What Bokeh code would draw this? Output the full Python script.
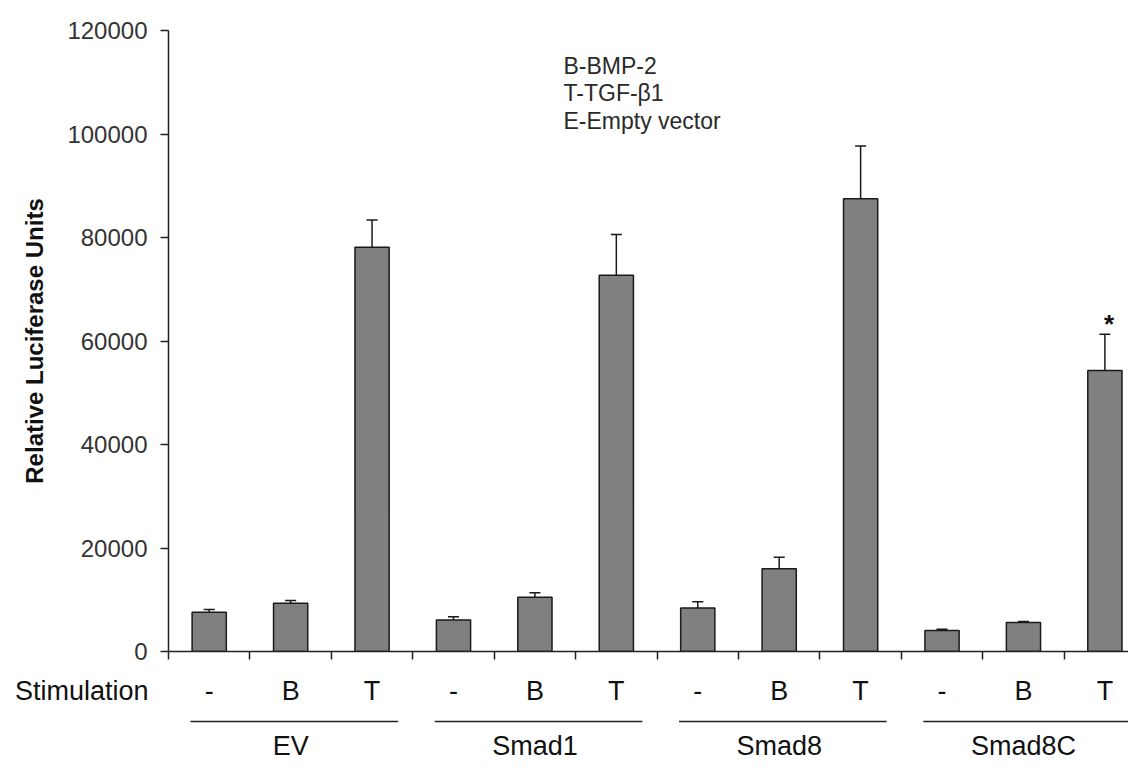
import numpy as np
from bokeh.plotting import figure
from bokeh.models import Range1d, FixedTicker, Label, ColumnDataSource, NumeralTickFormatter, LinearAxis
from bokeh.layouts import column
from bokeh.embed import file_html
from bokeh.resources import INLINE
from bokeh.core.properties import value

# ---------------- data ----------------
groups = ["EV", "Smad1", "Smad8", "Smad8C"]
stimulations = ["-", "B", "T"]
means = [7600, 9300, 78100, 6100, 10500, 72700, 8400, 16000, 87500, 4050, 5600, 54300]
errors = [500, 550, 5300, 600, 850, 7900, 1200, 2200, 10200, 250, 200, 7000]
significant = [False, False, False, False, False, False, False, False, False, False, False, True]
y_ticks = [0, 20000, 40000, 60000, 80000, 100000, 120000]
legend_lines = ["B-BMP-2", "T-TGF-\u03b21", "E-Empty vector"]
y_label = "Relative Luciferase Units"
row_label = "Stimulation"

# ---------------- layout ----------------
FONT = "Liberation Sans"
W = 1128
LEFT = 168
FRAME_W = W - LEFT
X_END = 11.79
TOP = 30
FRAME_H = 621
BOTTOM1 = 20
H1 = TOP + FRAME_H + BOTTOM1     # 671
H2 = 38                          # stimulation row
H3 = 760 - H1 - H2               # group row

n = len(groups) * len(stimulations)
xc = np.arange(n) + 0.5
tops = [m + e for m, e in zip(means, errors)]

src = ColumnDataSource(dict(x=xc, m=means, t=tops))
xr = Range1d(0, X_END)

p = figure(width=W, height=H1, x_range=xr, y_range=Range1d(0, y_ticks[-1]),
           output_backend="svg", toolbar_location=None,
           min_border_left=LEFT, min_border_right=0, min_border_top=TOP, min_border_bottom=BOTTOM1)
p.outline_line_color = None
p.grid.visible = False

p.vbar(x="x", top="m", width=0.42, source=src, fill_color="#808080",
       line_color="#1a1a1a", line_width=1.5)
p.segment(x0="x", y0="m", x1="x", y1="t", source=src, line_color="#1a1a1a", line_width=1.5)
cap = 0.068
p.segment(x0=xc - cap, y0=tops, x1=xc + cap, y1=tops, line_color="#1a1a1a", line_width=1.5)

# significance star
sx = [x + 0.05 for x, s in zip(xc, significant) if s]
sy = [t + 2000 for t, s in zip(tops, significant) if s]
p.text(x=sx, y=sy, text=["*"] * len(sx), text_font=value(FONT), text_font_style="bold",
       text_font_size="26px", text_align="center", text_baseline="alphabetic", text_color="#111111")

# y axis
ya = p.yaxis[0]
ya.ticker = FixedTicker(ticks=y_ticks)
ya.formatter = NumeralTickFormatter(format="0")
ya.major_tick_out = 8
ya.major_tick_in = 0
ya.minor_tick_out = 0
ya.minor_tick_in = 0
ya.axis_line_width = 1.5
ya.axis_line_color = "#222222"
ya.major_tick_line_width = 1.5
ya.major_tick_line_color = "#222222"
ya.major_label_text_font = FONT
ya.major_label_text_font_size = "24px"
ya.major_label_text_color = "#333333"
ya.major_label_standoff = 13
ya.axis_label = y_label
ya.axis_label_text_font = FONT
ya.axis_label_text_font_size = "24px"
ya.axis_label_text_font_style = "bold"
ya.axis_label_text_color = "#111111"
ya.axis_label_standoff = 16

# x axis (boundary ticks only)
xa = p.xaxis[0]
xa.ticker = FixedTicker(ticks=list(range(n + 1)))
xa.major_tick_out = 8
xa.major_tick_in = 0
xa.minor_tick_out = 0
xa.minor_tick_in = 0
xa.axis_line_width = 1.5
xa.axis_line_color = "#222222"
xa.major_tick_line_width = 1.5
xa.major_tick_line_color = "#222222"
xa.major_label_text_font_size = "0px"
xa.major_label_standoff = 0

# legend text
for i, t in enumerate(legend_lines):
    p.add_layout(Label(x=395, y=FRAME_H - 35 - 27.5 * i, x_units="screen", y_units="screen",
                       text=t, text_font=FONT, text_font_size="23px", text_color="#2a2a2a",
                       text_baseline="middle", text_align="left"))

# ---------------- stimulation row ----------------
p2 = figure(width=W, height=H2, x_range=xr, y_range=Range1d(H2, 0),
            output_backend="svg", toolbar_location=None, x_axis_location=None, y_axis_location=None,
            min_border_left=LEFT, min_border_right=0, min_border_top=0, min_border_bottom=0)
p2.outline_line_color = None
p2.grid.visible = False
stim_text = stimulations * len(groups)
p2.text(x=xc, y=[H2 / 2] * n, text=stim_text, text_font=value(FONT), text_font_size="27px",
        text_align="center", text_baseline="middle", text_color="#111111")

row_axis = LinearAxis(ticker=FixedTicker(ticks=[]), axis_label=row_label,
                      axis_label_orientation="horizontal", axis_label_standoff=20,
                      axis_label_text_font=FONT, axis_label_text_font_size="27px",
                      axis_label_text_font_style="normal", axis_label_text_color="#111111",
                      axis_line_color=None, major_tick_out=0, major_tick_in=0,
                      minor_tick_out=0, minor_tick_in=0, major_label_text_font_size="0px",
                      major_label_standoff=0)
p2.add_layout(row_axis, "left")

# ---------------- group row ----------------
p3 = figure(width=W, height=H3, x_range=xr, y_range=Range1d(H3, 0),
            output_backend="svg", toolbar_location=None, x_axis_location=None, y_axis_location=None,
            min_border_left=LEFT, min_border_right=0, min_border_top=0, min_border_bottom=0)
p3.outline_line_color = None
p3.grid.visible = False
gstart = np.arange(len(groups)) * len(stimulations)
p3.segment(x0=gstart + 0.27, y0=[12] * len(groups), x1=gstart + 2.82, y1=[12] * len(groups),
           line_color="#222222", line_width=1.5)
p3.text(x=gstart + 1.5, y=[36] * len(groups), text=groups, text_font=value(FONT), text_font_size="27px",
        text_align="center", text_baseline="middle", text_color="#111111")

layout = column(p, p2, p3, spacing=0)
open("out.html", "w").write(file_html(layout, INLINE))
